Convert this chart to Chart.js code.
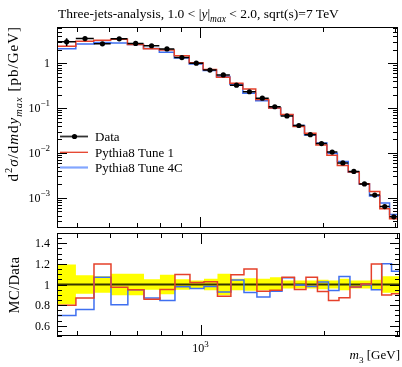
<!DOCTYPE html>
<html>
<head>
<meta charset="utf-8">
<script src="https://cdn.jsdelivr.net/npm/chart.js@4.4.1/dist/chart.umd.min.js"></script>
<style>
  body { margin: 0; background: #fff; font-family: "Liberation Serif", serif; }
  #wrap { position: relative; width: 402px; height: 367px; overflow: hidden; }
  canvas { position: absolute; left: 0; }
  .lbl { position: absolute; white-space: nowrap; line-height: 14px; color: #000; }
  .lbl sub, .lbl sup { font-size: 70%; line-height: 0; }
  .rot { transform-origin: 0 0; transform: rotate(-90deg); }
</style>
</head>
<body>
<div id="wrap">
  <canvas id="mainChart" width="402" height="232" style="top:0"></canvas>
  <canvas id="ratioChart" width="402" height="135" style="top:232px"></canvas>
  <div class="lbl" style="left:58px;top:7px;font-size:13.5px">Three-jets-analysis, 1.0 &lt; |<i>y</i>|<sub><i>max</i></sub> &lt; 2.0, sqrt(s)=7 TeV</div>
  <div class="lbl rot" style="left:6px;top:226px;width:200px;text-align:right;font-size:15px;letter-spacing:1px">d<sup>2</sup><i>σ</i>/d<i>m</i>d<i>y</i><sub><i>max</i></sub> [pb/GeV]</div>
  <div class="lbl rot" style="left:7px;top:335px;width:100px;text-align:center;font-size:14.5px;letter-spacing:0.4px">MC/Data</div>
  <div class="lbl" style="right:2px;top:348px;font-size:13px"><i>m</i><sub>3</sub> [GeV]</div>
</div>
<script>
// m3 bin edges [GeV] and values (pb/GeV)
const binEdges = [447, 497, 550, 605, 665, 728, 796, 866, 942, 1019, 1099, 1185, 1275, 1371,
  1475, 1578, 1692, 1805, 1925, 2048, 2172, 2310, 2458, 2604, 2760, 2916, 3058];
const dataValues = [2.99, 3.53, 2.70, 3.48, 2.75, 2.44, 2.07, 1.33, 1.00, 0.703, 0.546, 0.324, 0.231,
  0.166, 0.107, 0.0668, 0.0409, 0.0256, 0.0162, 0.0105, 0.00602, 0.00389, 0.00205, 0.00116, 0.000643, 0.000379];
const dataRelErr = [0.195, 0.09, 0.08, 0.105, 0.105, 0.05, 0.095, 0.05, 0.04, 0.055, 0.105, 0.055, 0.06,
  0.055, 0.07, 0.04, 0.04, 0.04, 0.045, 0.04, 0.055, 0.04, 0.04, 0.045, 0.08, 0.08];
const tune1Values = [2.39, 3.07, 3.24, 3.39, 2.61, 2.09, 1.97, 1.46, 1.02, 0.721, 0.484, 0.355, 0.266,
  0.155, 0.101, 0.0715, 0.0389, 0.0274, 0.0151, 0.00887, 0.00524, 0.00380, 0.00206, 0.00139, 0.000577, 0.000345];
const tune4CValues = [2.09, 2.67, 2.89, 2.80, 2.61, 2.12, 1.75, 1.30, 0.96, 0.689, 0.506, 0.338, 0.213,
  0.146, 0.100, 0.0711, 0.0407, 0.0251, 0.0166, 0.00989, 0.00649, 0.00380, 0.00205, 0.00110, 0.000772, 0.000428];

// axis ticks
const xTicks = [500, 600, 700, 800, 900, 1000, 2000, 3000];
const xMajor = [1000];
const xTickLabels = [{ v: 1000, text: '10', sup: '3' }];
const mainYLabels = [
  { v: 1, text: '1', sup: '' },
  { v: 0.1, text: '10', sup: '\u22121' },
  { v: 0.01, text: '10', sup: '\u22122' },
  { v: 0.001, text: '10', sup: '\u22123' }
];
const ratioYMajor = [0.6, 0.8, 1.0, 1.2, 1.4];
const ratioYLabels = ['0.6', '0.8', '1', '1.2', '1.4'];

const RED = '#e5402a';
const BLUE = '#3f6ff0';
const FONT = '"Liberation Serif", serif';

const centers = dataValues.map((_, i) => (binEdges[i] + binEdges[i + 1]) / 2);
// histogram outline: one point per edge, horizontal first then vertical
const steps = vals => binEdges.map((e, i) => ({ x: e, y: vals[Math.max(i - 1, 0)] }));

// tick lists (value, length)
const xTickList = xTicks.map(v => ({ v, len: xMajor.includes(v) ? 11 : 5 }));
const mainYTickList = [];
for (let n = -4; n <= 0; n++) {
  for (let m = 1; m <= 9; m++) {
    const v = m * Math.pow(10, n);
    if (v >= 2.14e-4 && v <= 6.38) mainYTickList.push({ v, len: m === 1 ? 10 : 5 });
  }
}
const ratioYTickList = [];
for (let k = 10; k <= 30; k++) {
  const v = +(k * 0.05).toFixed(2);
  ratioYTickList.push({ v, len: ratioYMajor.some(t => Math.abs(t - v) < 1e-6) ? 10 : 5 });
}

// frame, inward ticks on all sides, tick labels
const axisFrame = {
  id: 'axisFrame',
  afterDatasetsDraw(chart, args, o) {
    const { ctx, chartArea: a } = chart;
    const x = chart.scales.x, y = chart.scales.y;
    ctx.save();
    ctx.strokeStyle = '#000';
    ctx.lineWidth = 1;
    ctx.beginPath();
    o.xTicks.forEach(t => {
      const p = Math.round(x.getPixelForValue(t.v)) + 0.5;
      ctx.moveTo(p, a.top); ctx.lineTo(p, a.top + t.len);
      ctx.moveTo(p, a.bottom); ctx.lineTo(p, a.bottom - t.len);
    });
    o.yTicks.forEach(t => {
      const p = Math.round(y.getPixelForValue(t.v)) + 0.5;
      ctx.moveTo(a.left, p); ctx.lineTo(a.left + t.len, p);
      ctx.moveTo(a.right, p); ctx.lineTo(a.right - t.len, p);
    });
    ctx.stroke();
    ctx.strokeRect(a.left + 0.5, a.top + 0.5, a.right - a.left - 1, a.bottom - a.top - 1);

    ctx.fillStyle = '#000';
    ctx.textBaseline = 'middle';
    (o.yLabels || []).forEach(l => {
      const p = y.getPixelForValue(l.v);
      const right = a.left - 7;
      ctx.textAlign = 'right';
      let w = 0;
      if (l.sup) {
        ctx.font = '9px ' + FONT;
        w = ctx.measureText(l.sup).width;
        ctx.fillText(l.sup, right, p - 4);
      }
      ctx.font = '12px ' + FONT;
      ctx.fillText(l.text, right - w, p + 1);
    });
    (o.xLabels || []).forEach(l => {
      const p = x.getPixelForValue(l.v);
      ctx.font = '12px ' + FONT;
      const w1 = ctx.measureText(l.text).width;
      ctx.font = '9px ' + FONT;
      const w2 = ctx.measureText(l.sup).width;
      const start = p - (w1 + w2) / 2;
      ctx.textAlign = 'left';
      ctx.fillText(l.sup, start + w1, a.bottom + 9);
      ctx.font = '12px ' + FONT;
      ctx.fillText(l.text, start, a.bottom + 13);
    });
    ctx.restore();
  }
};

// data error bars: bin-wide horizontal bar + vertical uncertainty
const dataBars = {
  id: 'dataBars',
  afterDatasetsDraw(chart) {
    const { ctx } = chart;
    const x = chart.scales.x, y = chart.scales.y;
    ctx.save();
    ctx.strokeStyle = '#000';
    ctx.lineWidth = 1.5;
    ctx.beginPath();
    dataValues.forEach((d, i) => {
      const py = y.getPixelForValue(d);
      ctx.moveTo(x.getPixelForValue(binEdges[i]), py);
      ctx.lineTo(x.getPixelForValue(binEdges[i + 1]), py);
      const px = x.getPixelForValue(centers[i]);
      ctx.moveTo(px, y.getPixelForValue(d * (1 + dataRelErr[i])));
      ctx.lineTo(px, y.getPixelForValue(d * (1 - dataRelErr[i])));
    });
    ctx.stroke();
    ctx.restore();
  }
};

// legend in upper-left of the main panel
const boxLegend = {
  id: 'boxLegend',
  afterDraw(chart) {
    const { ctx } = chart;
    const ds = chart.data.datasets;
    const rows = [136.5, 152.3, 167.5];
    ctx.save();
    ctx.font = '13px ' + FONT;
    ctx.textBaseline = 'middle';
    ctx.textAlign = 'left';
    ds.forEach((d, i) => {
      const yy = rows[i];
      ctx.beginPath();
      if (i === 0) { ctx.strokeStyle = '#333'; ctx.lineWidth = 1.8; }
      else if (i === 1) { ctx.strokeStyle = RED; ctx.lineWidth = 1.3; }
      else { ctx.strokeStyle = '#82a6ff'; ctx.lineWidth = 2.2; }
      ctx.moveTo(60, yy); ctx.lineTo(88, yy);
      ctx.stroke();
      if (i === 0) {
        ctx.fillStyle = '#000';
        ctx.beginPath(); ctx.arc(74.5, yy, 2.6, 0, Math.PI * 2); ctx.fill();
      }
      ctx.fillStyle = '#000';
      ctx.fillText(d.label, 95, yy + 1);
    });
    ctx.restore();
  }
};

const common = {
  responsive: false,
  animation: false,
  events: [],
  plugins: { legend: { display: false }, tooltip: { enabled: false } }
};

new Chart(document.getElementById('mainChart'), {
  type: 'line',
  data: {
    datasets: [
      { label: 'Data', data: centers.map((c, i) => ({ x: c, y: dataValues[i] })), showLine: false,
        pointRadius: 2.6, pointBorderWidth: 0, pointBackgroundColor: '#000', borderColor: '#000', order: 0 },
      { label: 'Pythia8 Tune 1', data: steps(tune1Values), stepped: 'after', borderColor: RED,
        borderWidth: 1.5, pointRadius: 0, fill: false, order: 1 },
      { label: 'Pythia8 Tune 4C', data: steps(tune4CValues), stepped: 'after', borderColor: BLUE,
        borderWidth: 1.5, pointRadius: 0, fill: false, order: 2 }
    ]
  },
  options: {
    ...common,
    layout: { padding: { left: 57, right: 2, top: 27, bottom: 1 } },
    scales: {
      x: { type: 'logarithmic', min: 447, max: 3058, display: false },
      y: { type: 'logarithmic', min: 2.14e-4, max: 6.38, display: false }
    },
    plugins: {
      ...common.plugins,
      axisFrame: { xTicks: xTickList, yTicks: mainYTickList, yLabels: mainYLabels }
    }
  },
  plugins: [dataBars, axisFrame, boxLegend]
});

const ratio = vals => vals.map((v, i) => v / dataValues[i]);

new Chart(document.getElementById('ratioChart'), {
  type: 'line',
  data: {
    datasets: [
      { label: 'band low', data: steps(dataRelErr.map(e => 1 - e)), stepped: 'after', borderWidth: 0,
        pointRadius: 0, fill: false, order: 5 },
      { label: 'band high', data: steps(dataRelErr.map(e => 1 + e)), stepped: 'after', borderWidth: 0,
        pointRadius: 0, fill: '-1', backgroundColor: '#ffff00', order: 4 },
      { label: 'Data', data: [{ x: binEdges[0], y: 1 }, { x: binEdges[binEdges.length - 1], y: 1 }],
        borderColor: 'rgba(20,20,0,0.85)', borderWidth: 2, pointRadius: 0, fill: false, order: 3 },
      { label: 'Pythia8 Tune 4C', data: steps(ratio(tune4CValues)), stepped: 'after', borderColor: BLUE,
        borderWidth: 1.5, pointRadius: 0, fill: false, order: 2 },
      { label: 'Pythia8 Tune 1', data: steps(ratio(tune1Values)), stepped: 'after', borderColor: RED,
        borderWidth: 1.5, pointRadius: 0, fill: false, order: 1 }
    ]
  },
  options: {
    ...common,
    layout: { padding: { left: 57, right: 2, top: 1, bottom: 31 } },
    scales: {
      x: { type: 'logarithmic', min: 447, max: 3058, display: false },
      y: { type: 'linear', min: 0.5, max: 1.5, display: false }
    },
    plugins: {
      ...common.plugins,
      axisFrame: {
        xTicks: xTickList, yTicks: ratioYTickList,
        yLabels: ratioYMajor.map((v, i) => ({ v, text: ratioYLabels[i], sup: '' })),
        xLabels: xTickLabels
      }
    }
  },
  plugins: [axisFrame]
});
</script>
</body>
</html>
